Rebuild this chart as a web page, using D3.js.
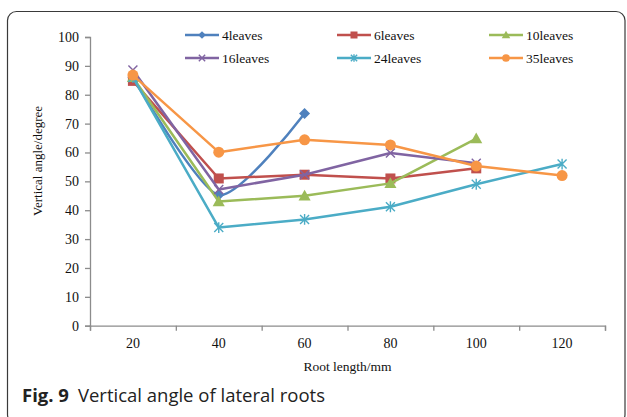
<!DOCTYPE html>
<html>
<head>
<meta charset="utf-8">
<script src="https://cdn.jsdelivr.net/npm/d3@7"></script>
<style>
  html, body { margin: 0; padding: 0; background: #fff; }
  svg { display: block; }
</style>
</head>
<body>
<div id="chart"></div>
<script>
// Root length categories (mm)
const categories = ["20", "40", "60", "80", "100", "120"];
const yTicks = [0, 10, 20, 30, 40, 50, 60, 70, 80, 90, 100];

// Vertical angle per series (null = no value)
const leaves4  = [86, 45.3, 73.5, null, null, null];
const leaves6  = [84.8, 51, 52.3, 51, 54.5, null];
const leaves10 = [86, 43, 45, 49.3, 64.8, null];
const leaves16 = [88.6, 47.2, 52.3, 59.8, 56.3, null];
const leaves24 = [86, 34, 36.8, 41.2, 49, 56];
const leaves35 = [86.8, 60.1, 64.4, 62.6, 55.3, 52];

const series = [
    { name: "4leaves", values: leaves4, color: "#4F81BD", marker: "diamond", smooth: true },
    { name: "6leaves", values: leaves6, color: "#C0504D", marker: "square" },
    { name: "10leaves", values: leaves10, color: "#9BBB59", marker: "triangle" },
    { name: "16leaves", values: leaves16, color: "#8064A2", marker: "x" },
    { name: "24leaves", values: leaves24, color: "#4BACC6", marker: "star" },
    { name: "35leaves", values: leaves35, color: "#F79646", marker: "circle" }
];

const width = 627;
const height = 417;
const plot = { left: 90, right: 605, top: 37, bottom: 325.7 };

const svg = d3.select("#chart")
    .append("svg")
    .attr("width", width)
    .attr("height", height);

// Outer frame
svg.append("rect")
    .attr("x", 7.5)
    .attr("y", 11.5)
    .attr("width", 617.5)
    .attr("height", 412)
    .attr("rx", 9)
    .attr("fill", "none")
    .attr("stroke", "#3a3a3a")
    .attr("stroke-width", 1.2);

const x = d3.scaleBand()
    .domain(categories)
    .range([plot.left, plot.right]);

const xEdges = d3.scaleLinear()
    .domain([0, categories.length])
    .range([plot.left, plot.right]);

const y = d3.scaleLinear()
    .domain([0, 100])
    .range([plot.bottom, plot.top]);

const serif = "'Liberation Serif', 'Times New Roman', serif";

// Y axis
const yAxis = svg.append("g")
    .attr("transform", `translate(${plot.left},0)`)
    .call(d3.axisLeft(y).tickValues(yTicks).tickSize(5).tickPadding(6));
yAxis.selectAll("text")
    .attr("font-family", serif)
    .attr("font-size", "14px")
    .attr("fill", "#111");

// X axis: tick marks at band edges, labels centred
const xTickAxis = svg.append("g")
    .attr("transform", `translate(0,${plot.bottom})`)
    .call(d3.axisBottom(xEdges).ticks(categories.length).tickSize(5).tickFormat(""));

const xLabelAxis = svg.append("g")
    .attr("transform", `translate(0,${plot.bottom})`)
    .call(d3.axisBottom(x).tickSize(0).tickPadding(12));
xLabelAxis.select(".domain").remove();
xLabelAxis.selectAll("text")
    .attr("font-family", serif)
    .attr("font-size", "14px")
    .attr("fill", "#111");

svg.selectAll(".domain, .tick line")
    .attr("stroke", "#8c8c8c")
    .attr("stroke-width", 1.3);

// Axis titles
svg.append("text")
    .attr("transform", `translate(42,161) rotate(-90)`)
    .attr("text-anchor", "middle")
    .attr("font-family", serif)
    .attr("font-size", "13px")
    .attr("fill", "#111")
    .text("Vertical angle/degree");

svg.append("text")
    .attr("x", (plot.left + plot.right) / 2)
    .attr("y", 371)
    .attr("text-anchor", "middle")
    .attr("font-family", serif)
    .attr("font-size", "13.5px")
    .attr("fill", "#111")
    .text("Root length/mm");

// Marker drawing
function drawMarker(g, type, color, s) {
    if (type === "diamond") {
        g.append("path")
            .attr("d", `M0,${-s}L${s},0L0,${s}L${-s},0Z`)
            .attr("fill", color);
    } else if (type === "square") {
        g.append("rect")
            .attr("x", -s).attr("y", -s)
            .attr("width", 2 * s).attr("height", 2 * s)
            .attr("fill", color);
    } else if (type === "triangle") {
        g.append("path")
            .attr("d", `M0,${-s * 1.1}L${s * 1.1},${s * 0.85}L${-s * 1.1},${s * 0.85}Z`)
            .attr("fill", color);
    } else if (type === "circle") {
        g.append("circle")
            .attr("r", s)
            .attr("fill", color);
    } else if (type === "x" || type === "star") {
        let d = `M${-s},${-s}L${s},${s}M${-s},${s}L${s},${-s}`;
        if (type === "star") d += `M0,${-s * 1.2}L0,${s * 1.2}`;
        g.append("path")
            .attr("d", d)
            .attr("fill", "none")
            .attr("stroke", color)
            .attr("stroke-width", 1.4);
    }
}

const markerSize = { diamond: 5.5, square: 5, triangle: 5.5, circle: 5.5, x: 4.5, star: 4.5 };

// Lines and markers
series.forEach(s => {
    const pts = s.values
        .map((v, i) => ({ cat: categories[i], v: v }))
        .filter(d => d.v !== null);

    const line = d3.line()
        .x(d => x(d.cat) + x.bandwidth() / 2)
        .y(d => y(d.v))
        .curve(s.smooth ? d3.curveCardinal.tension(0.3) : d3.curveLinear);

    svg.append("path")
        .datum(pts)
        .attr("d", line)
        .attr("fill", "none")
        .attr("stroke", s.color)
        .attr("stroke-width", 2.5)
        .attr("stroke-linejoin", "round");

    pts.forEach(d => {
        const g = svg.append("g")
            .attr("transform", `translate(${x(d.cat) + x.bandwidth() / 2},${y(d.v)})`);
        drawMarker(g, s.marker, s.color, markerSize[s.marker]);
    });
});

// Legend
const legendCols = [185, 337, 489];
const legendRows = [35, 58];
series.forEach((s, i) => {
    const lx = legendCols[i % 3];
    const ly = legendRows[Math.floor(i / 3)];
    const g = svg.append("g").attr("transform", `translate(${lx},${ly})`);
    g.append("line")
        .attr("x1", 0).attr("x2", 34)
        .attr("y1", 0).attr("y2", 0)
        .attr("stroke", s.color)
        .attr("stroke-width", 2.5);
    const mg = g.append("g").attr("transform", "translate(17,0)");
    drawMarker(mg, s.marker, s.color, markerSize[s.marker] * 0.7);
    g.append("text")
        .attr("x", 37)
        .attr("dy", "0.35em")
        .attr("font-family", serif)
        .attr("font-size", "13.5px")
        .attr("fill", "#111")
        .text(s.name);
});

// Caption
const caption = svg.append("text")
    .attr("x", 22)
    .attr("y", 402)
    .attr("font-family", "'Open Sans', 'Noto Sans', sans-serif")
    .attr("font-size", "18.5px")
    .attr("fill", "#222");
caption.append("tspan")
    .attr("font-weight", "bold")
    .text("Fig. 9");
caption.append("tspan")
    .attr("dx", 9)
    .text("Vertical angle of lateral roots");
</script>
</body>
</html>
